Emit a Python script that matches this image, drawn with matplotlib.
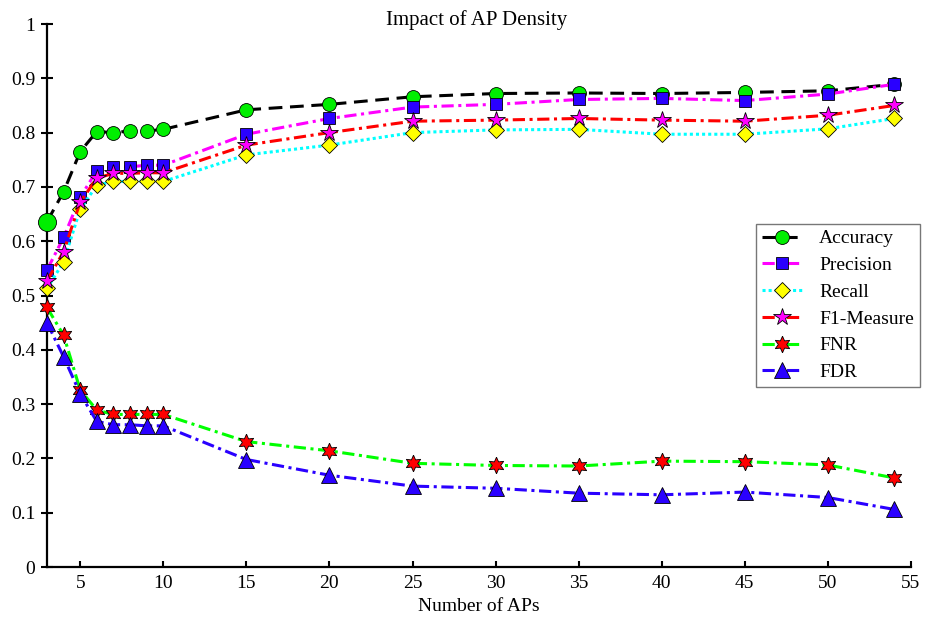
import matplotlib
matplotlib.use("Agg")
import matplotlib.pyplot as plt

plt.rcParams['font.family'] = ['Liberation Serif', 'DejaVu Serif']
plt.rcParams['mathtext.fontset'] = 'stix'

num_aps = [3, 4, 5, 6, 7, 8, 9, 10, 15, 20, 25, 30, 35, 40, 45, 50, 54]
accuracy = [0.636, 0.691, 0.765, 0.802, 0.800, 0.803, 0.803, 0.806, 0.842, 0.852,
            0.866, 0.872, 0.873, 0.872, 0.874, 0.877, 0.889]
precision = [0.547, 0.607, 0.681, 0.730, 0.737, 0.737, 0.740, 0.740, 0.797, 0.826,
             0.847, 0.852, 0.861, 0.863, 0.859, 0.871, 0.889]
recall = [0.513, 0.562, 0.659, 0.703, 0.710, 0.710, 0.710, 0.710, 0.759, 0.777,
          0.800, 0.805, 0.806, 0.797, 0.797, 0.807, 0.826]
f1_measure = [0.527, 0.581, 0.672, 0.716, 0.725, 0.725, 0.726, 0.726, 0.777, 0.800,
              0.821, 0.823, 0.826, 0.823, 0.821, 0.832, 0.850]
fnr = [0.478, 0.427, 0.326, 0.289, 0.281, 0.281, 0.281, 0.281, 0.231, 0.214,
       0.191, 0.187, 0.186, 0.195, 0.194, 0.188, 0.164]
fdr = [0.450, 0.387, 0.319, 0.268, 0.262, 0.262, 0.260, 0.260, 0.198, 0.169,
       0.149, 0.145, 0.136, 0.133, 0.138, 0.128, 0.106]

x_ticks = [5, 10, 15, 20, 25, 30, 35, 40, 45, 50, 55]
y_ticks = [0, 0.1, 0.2, 0.3, 0.4, 0.5, 0.6, 0.7, 0.8, 0.9, 1]
y_tick_labels = ['0', '0.1', '0.2', '0.3', '0.4', '0.5', '0.6', '0.7', '0.8', '0.9', '1']

fig = plt.figure(figsize=(9.25, 6.22), dpi=100)
ax = fig.add_axes([0.0508, 0.0884, 0.934, 0.873])

lw = 2.2
blue = '#2a00ff'
series = [
    (accuracy, 'Accuracy', 'k', (0, (4.5, 2.5)), 'o', '#00ee00', 10),
    (precision, 'Precision', '#ff00ff', (0, (4, 1.5, 1, 1.5)), 's', blue, 9),
    (recall, 'Recall', '#00ffff', (0, (1, 1)), 'D', '#ffff00', 8.5),
    (f1_measure, 'F1-Measure', '#ff0000', (0, (4, 1.5, 1, 1.5)), '*', '#ff00ff', 13),
    (fnr, 'FNR', '#00ff00', (0, (4, 1.5, 1, 1.5)), (6, 1, 0), '#ff0000', 12),
    (fdr, 'FDR', blue, (0, (4, 1.5, 1, 1.5)), '^', blue, 11),
]

for vals, name, lc, ls, mk, mfc, ms in series:
    ax.plot(num_aps, vals, color=lc, linestyle=ls, linewidth=lw, marker=mk,
            markerfacecolor=mfc, markeredgecolor='k', markeredgewidth=0.6,
            markersize=ms, label=name, clip_on=False, zorder=3)

# enlarged first accuracy marker as in the reference
ax.plot(num_aps[0], accuracy[0], linestyle='none', marker='o', markersize=13,
        markerfacecolor='#00ee00', markeredgecolor='k', markeredgewidth=0.6,
        clip_on=False, zorder=4)

ax.set_xlim(3, 55)
ax.set_ylim(0, 1)
ax.set_xticks(x_ticks)
ax.set_yticks(y_ticks)
ax.set_yticklabels(y_tick_labels)
ax.tick_params(axis='both', labelsize=14, width=1.5, colors='k')
ax.tick_params(axis='y', direction='inout', length=9, pad=4)
ax.tick_params(axis='x', direction='in', length=4, pad=6)
for s in ['top', 'right']:
    ax.spines[s].set_visible(False)
for s in ['left', 'bottom']:
    ax.spines[s].set_linewidth(1.6)

ax.text(0.497, 1.008, 'Impact of AP Density', fontsize=15, ha='center', va='center',
        transform=ax.transAxes)
ax.set_xlabel('Number of APs', fontsize=14, labelpad=4)

leg = ax.legend(loc='upper left', bbox_to_anchor=(0.8206, 0.6317), fontsize=14,
                handlelength=2.1, labelspacing=0.47, borderpad=0.3,
                handletextpad=0.85, frameon=True, fancybox=False,
                edgecolor='#555555', borderaxespad=0)
leg.get_frame().set_linewidth(1.0)

fig.savefig('out.png', dpi=100)
